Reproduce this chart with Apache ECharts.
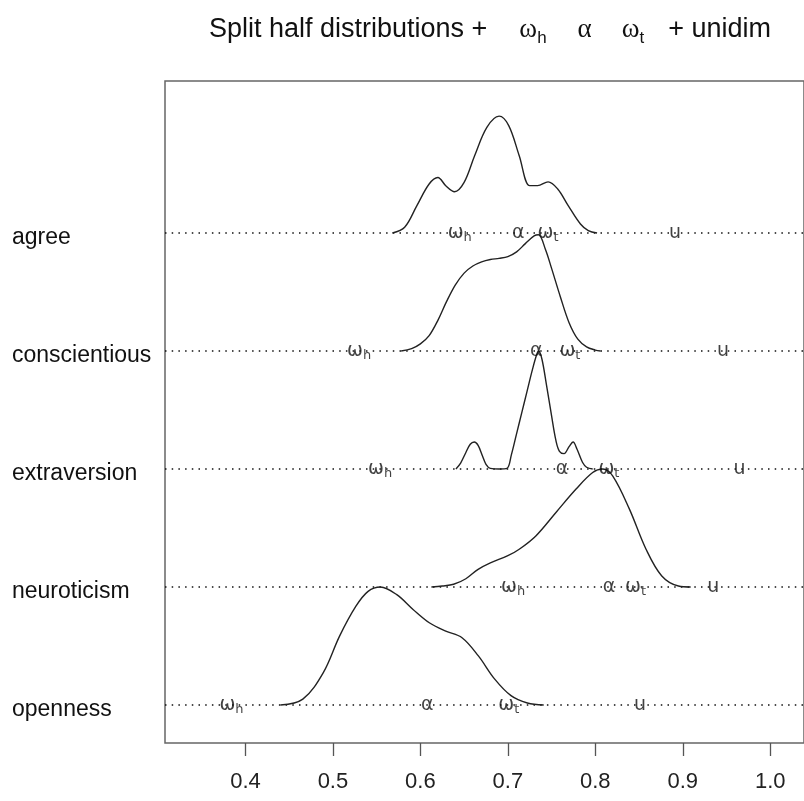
<!DOCTYPE html>
<html>
<head>
<meta charset="utf-8">
<script src="https://cdn.jsdelivr.net/npm/echarts@6/dist/echarts.min.js"></script>
<style>html,body{margin:0;padding:0;background:#fff}#c{width:804px;height:801px}</style>
</head>
<body>
<div id="c"></div>
<script>
// ---- data ----
const scaleNames = ['agree', 'conscientious', 'extraversion', 'neuroticism', 'openness'];
const xTicks = [0.4, 0.5, 0.6, 0.7, 0.8, 0.9, 1.0];

// split-half density curves: x values and heights (in units of ridge spacing)
const agreeX = [0.568, 0.582, 0.596, 0.610, 0.620, 0.629, 0.639, 0.650, 0.662, 0.676, 0.690, 0.701, 0.713, 0.725, 0.734, 0.746, 0.757, 0.769, 0.783, 0.792, 0.802];
const agreeY = [0, 0.048, 0.232, 0.415, 0.470, 0.401, 0.350, 0.429, 0.655, 0.895, 0.990, 0.910, 0.655, 0.401, 0.401, 0.433, 0.373, 0.232, 0.076, 0.020, 0];

const conscX = [0.578, 0.590, 0.600, 0.610, 0.620, 0.630, 0.640, 0.650, 0.660, 0.670, 0.680, 0.690, 0.700, 0.710, 0.720, 0.730, 0.735, 0.743, 0.750, 0.760, 0.770, 0.780, 0.790, 0.800, 0.806];
const conscY = [0, 0.020, 0.060, 0.130, 0.260, 0.420, 0.560, 0.660, 0.720, 0.755, 0.775, 0.785, 0.800, 0.840, 0.910, 0.975, 0.985, 0.860, 0.700, 0.460, 0.240, 0.100, 0.035, 0.008, 0];

const extraX = [0.6406, 0.646, 0.652, 0.657, 0.6616, 0.666, 0.671, 0.675, 0.680, 0.690, 0.699, 0.704, 0.710, 0.716, 0.722, 0.728, 0.733, 0.7353, 0.739, 0.744, 0.750, 0.755, 0.759, 0.7643, 0.770, 0.7746, 0.779, 0.7853, 0.790, 0.797];
const extraY = [0, 0.05, 0.14, 0.21, 0.229, 0.20, 0.11, 0.04, 0.005, 0, 0.005, 0.12, 0.30, 0.48, 0.66, 0.84, 0.97, 1.0, 0.93, 0.72, 0.45, 0.24, 0.15, 0.13, 0.19, 0.229, 0.17, 0.057, 0.015, 0];

const neuroX = [0.6126, 0.625, 0.638, 0.652, 0.666, 0.680, 0.700, 0.713, 0.732, 0.755, 0.778, 0.797, 0.8086, 0.820, 0.839, 0.858, 0.876, 0.895, 0.909];
const neuroY = [0, 0.008, 0.023, 0.070, 0.150, 0.205, 0.265, 0.320, 0.433, 0.632, 0.830, 0.970, 1.0, 0.940, 0.660, 0.320, 0.093, 0.008, 0];

const openX = [0.440, 0.4656, 0.489, 0.5076, 0.5263, 0.5402, 0.5543, 0.573, 0.5916, 0.6102, 0.629, 0.6476, 0.6663, 0.685, 0.7036, 0.7223, 0.741];
const openY = [0, 0.050, 0.275, 0.584, 0.837, 0.963, 1.0, 0.935, 0.810, 0.697, 0.626, 0.570, 0.416, 0.219, 0.079, 0.017, 0];

// reliability estimates per scale (same order as scaleNames)
const omegaH = [0.645, 0.530, 0.554, 0.706, 0.384];
const alphaV = [0.712, 0.7325, 0.762, 0.8156, 0.608];
const omegaT = [0.746, 0.771, 0.8156, 0.846, 0.701];
const unidim = [0.891, 0.946, 0.965, 0.935, 0.851];

// ---- chart ----
const curvesX = [agreeX, conscX, extraX, neuroX, openX];
const curvesY = [agreeY, conscY, extraY, neuroY, openY];
const nS = scaleNames.length;
const levelOf = i => nS - 1 - i;   // agree at top
const xMin = 0.308, xMax = 1.0386;
const yMin = -0.322, yMax = 5.288;

const series = [];
for (let i = 0; i < nS; i++) {
  const lv = levelOf(i);
  series.push({
    type: 'line', data: [[xMin, lv], [xMax, lv]], symbol: 'none', silent: true,
    lineStyle: { color: '#111', width: 1.6, type: [1.5, 5.2] }, z: 1
  });
  series.push({
    type: 'line', data: curvesX[i].map((x, k) => [x, lv + curvesY[i][k]]),
    symbol: 'none', smooth: 0.35, silent: true,
    lineStyle: { color: '#222', width: 1.4 }, z: 2
  });
}
const rich = {
  w: { fontSize: 19, fontFamily: 'DejaVu Sans', color: '#111', lineHeight: 22 },
  s: { fontSize: 13, fontFamily: 'DejaVu Sans', color: '#111', verticalAlign: 'bottom', lineHeight: 22 },
  u: { fontSize: 19, fontFamily: 'DejaVu Sans', color: '#111', lineHeight: 22 }
};
function markerSeries(vals, text) {
  return {
    type: 'scatter', symbolSize: 1, itemStyle: { color: 'rgba(0,0,0,0)' }, silent: true, z: 3,
    data: vals.map((v, i) => [v, levelOf(i)]),
    label: { show: true, position: 'inside', formatter: text, rich: rich }
  };
}
series.push(markerSeries(omegaH, '{w|ω}{s|h}'));
series.push(markerSeries(alphaV, '{w|α}'));
series.push(markerSeries(omegaT, '{w|ω}{s|t}'));
series.push(markerSeries(unidim, '{u|u}'));

const chart = echarts.init(document.getElementById('c'), null, { renderer: 'canvas' });
chart.setOption({
  animation: false,
  backgroundColor: '#fff',
  title: {
    left: 485, top: 8, textAlign: 'center',
    text: '{a|Split half distributions +}{sp1| }{g|ω}{sb|h}{sp| }{g|α}{sp3| }{g|ω}{sb|t}{sp2| }{a|+ unidim}',
    textStyle: {
      fontWeight: 'normal',
      rich: {
        a: { fontSize: 27, fontFamily: 'Liberation Sans', fontWeight: 'normal', color: '#111', lineHeight: 34 },
        sp1: { fontSize: 20, width: 32, lineHeight: 34 },
        sp: { fontSize: 20, width: 31, lineHeight: 34 },
        sp3: { fontSize: 20, width: 30, lineHeight: 34 },
        sp2: { fontSize: 20, width: 24, lineHeight: 34 },
        g: { fontSize: 27, fontFamily: 'Liberation Serif', fontWeight: 'normal', color: '#111', lineHeight: 34 },
        sb: { fontSize: 17, fontFamily: 'Liberation Sans', fontWeight: 'normal', color: '#111', verticalAlign: 'bottom', lineHeight: 34 }
      }
    }
  },
  grid: { left: 165, top: 81, right: -4, bottom: 58, show: true, borderColor: '#666', borderWidth: 1.5, backgroundColor: 'transparent' },
  xAxis: {
    type: 'value', min: xMin, max: xMax,
    axisLine: { show: false, onZero: false }, splitLine: { show: false },
    axisTick: { show: true, length: 13, lineStyle: { color: '#555', width: 1.3 }, customValues: xTicks },
    axisLabel: { customValues: xTicks, formatter: v => v.toFixed(1), fontSize: 22, fontFamily: 'Liberation Sans', color: '#222', margin: 28 }
  },
  yAxis: {
    type: 'value', min: yMin, max: yMax,
    axisLine: { show: false, onZero: false }, splitLine: { show: false }, axisTick: { show: false },
    axisLabel: {
      customValues: scaleNames.map((_, i) => levelOf(i)),
      formatter: v => '{n|' + scaleNames[nS - 1 - Math.round(v)] + '}',
      align: 'left', margin: 153,
      rich: { n: { fontSize: 23, fontFamily: 'Liberation Sans', color: '#111', padding: [9, 0, 0, 0] } }
    }
  },
  series: series
});
</script>
</body>
</html>
